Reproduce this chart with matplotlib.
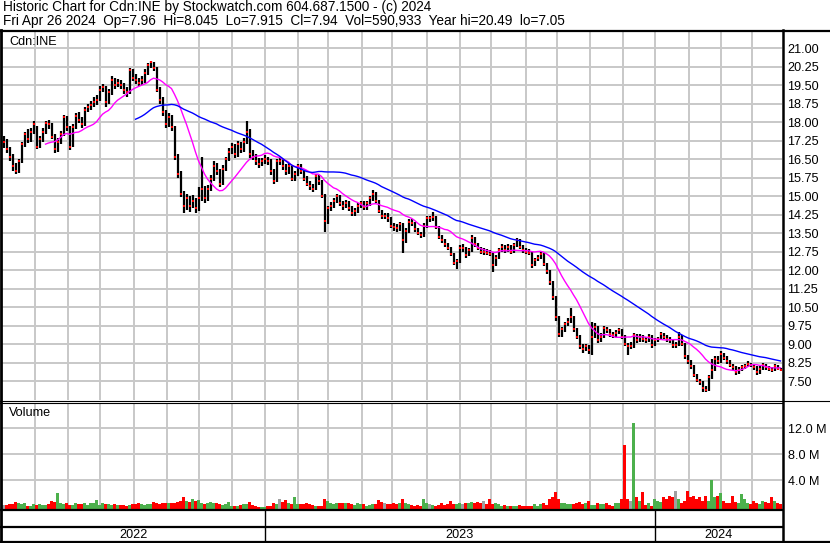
import matplotlib
matplotlib.use('Agg')
import matplotlib.pyplot as plt
import numpy as np
import pandas as pd

plt.rcParams['font.family'] = ['Liberation Sans', 'DejaVu Sans']

W, H = 830, 543

# one bar for every two trading days, May 2022 - Apr 26 2024
close = [
    17.2, 16.9, 16.6, 16.2, 16.0, 16.4, 17.1, 17.5, 17.3, 17.6,
    17.9, 17.0, 17.3, 17.6, 17.95, 17.9, 17.4, 16.9, 17.2, 17.5,
    18.2, 17.8, 17.0, 17.8, 18.25, 18.1, 17.9, 18.5, 18.6, 18.7,
    18.8, 18.9, 19.3, 19.4, 18.8, 19.2, 19.7, 19.5, 19.6, 19.5,
    19.3, 19.2, 20.1, 19.8, 19.7, 19.6, 19.7, 20.0, 20.3, 20.45,
    20.2, 19.3, 18.9, 18.4, 17.9, 18.2, 17.8, 16.6, 15.9, 15.1,
    14.6, 14.9, 14.6, 14.8, 14.5, 14.9, 15.3, 14.9, 15.3, 15.7,
    16.2, 16.0, 15.5, 16.1, 16.5, 16.8, 17.0, 16.7, 17.1, 16.9,
    17.2, 17.6, 16.7, 16.6, 16.4, 16.3, 16.4, 16.5, 16.4, 16.0,
    15.6, 16.4, 16.4, 16.2, 16.0, 16.2, 15.7, 15.9, 16.2, 16.0,
    15.7, 15.5, 15.4, 15.3, 15.8, 15.6, 15.0, 14.0, 14.5, 14.6,
    14.8, 15.0, 14.7, 14.6, 14.7, 14.5, 14.3, 14.4, 14.6, 14.7,
    14.55, 14.7, 14.9, 15.1, 14.8, 14.4, 14.2, 14.2, 14.1, 13.8,
    13.75, 13.7, 13.85, 13.2, 13.6, 13.95, 13.9, 13.65, 13.5, 13.4,
    13.8, 14.1, 14.1, 14.15, 13.75, 13.35, 13.2, 13.05, 12.9, 12.65,
    12.3, 12.35, 12.9, 12.9, 12.6, 12.8, 13.3, 13.05, 12.9, 12.75,
    12.75, 12.7, 12.65, 12.2, 12.5, 12.8, 12.95, 12.8, 12.95, 12.75,
    13.0, 13.2, 12.95, 12.8, 12.75, 12.7, 12.2, 12.4, 12.5, 12.65,
    12.25, 11.95, 11.5, 10.9, 10.1, 9.4, 9.6, 9.8, 9.9, 10.1,
    9.6, 9.3, 8.9, 8.8, 8.9, 8.75, 9.3, 9.7, 9.15, 9.3,
    9.65, 9.55, 9.4, 9.35, 9.45, 9.55, 9.3, 9.0, 8.9, 8.9,
    9.35, 9.15, 9.3, 9.2, 9.15, 9.3, 8.95, 9.15, 9.2, 9.4,
    9.3, 9.2, 9.15, 8.95, 8.95, 9.3, 9.0, 8.5, 8.3, 8.1,
    7.75, 7.55, 7.45, 7.2, 7.12, 7.65, 7.95, 8.4, 8.3, 8.6,
    8.45, 8.3, 8.15, 8.05, 7.85, 7.95, 8.05, 8.1, 8.2, 8.15,
    8.05, 7.85, 8.0, 8.15, 8.05, 8.0, 7.95, 8.1, 8.0, 7.94,
]
high = [
    17.45, 17.3, 17.0, 16.7, 16.35, 16.5, 17.2, 17.6, 17.7, 17.75,
    18.05, 17.85, 17.45, 17.75, 18.05, 18.1, 17.95, 17.5, 17.35, 17.65,
    18.3, 18.25, 17.85, 17.9, 18.35, 18.4, 18.2, 18.6, 18.75, 18.85,
    19.0, 19.1, 19.45, 19.55, 19.45, 19.35, 19.85, 19.8, 19.75, 19.7,
    19.6, 19.4, 20.2, 20.15, 19.95, 19.8, 19.85, 20.15, 20.4, 20.49,
    20.45, 20.25, 19.4, 19.0, 18.5, 18.35, 18.3, 17.85, 16.7, 16.0,
    15.2, 15.1, 15.0, 15.05, 14.9, 15.35, 16.6, 15.4, 15.45, 15.85,
    16.4, 16.35, 16.1, 16.25, 16.6, 16.95, 17.15, 17.1, 17.25, 17.2,
    17.35, 18.05, 17.7, 16.85, 16.7, 16.55, 16.55, 16.65, 16.6, 16.5,
    16.1, 16.5, 16.55, 16.5, 16.3, 16.35, 16.25, 16.0, 16.3, 16.3,
    16.05, 15.8, 15.6, 15.5, 15.9, 15.85, 15.65, 15.1, 14.6, 14.75,
    14.9, 15.1, 15.05, 14.8, 14.85, 14.8, 14.6, 14.5, 14.7, 14.8,
    14.8, 14.8, 15.0, 15.25, 15.15, 14.85, 14.45, 14.3, 14.3, 14.15,
    13.9, 13.85, 13.95, 13.9, 13.7, 14.05, 14.05, 13.95, 13.7, 13.55,
    13.9, 14.2, 14.2, 14.35, 14.2, 13.8, 13.4, 13.25, 13.1, 12.95,
    12.7, 12.45, 13.0, 13.05, 12.95, 12.9, 13.4, 13.35, 13.1, 12.95,
    12.9, 12.85, 12.8, 12.7, 12.6, 12.9, 13.05, 13.0, 13.05, 13.0,
    13.1, 13.3, 13.25, 13.0, 12.9, 12.85, 12.75, 12.5, 12.6, 12.75,
    12.7, 12.3, 12.0, 11.55, 10.95, 10.15, 9.7, 9.9, 10.05, 10.45,
    10.15, 9.65, 9.35, 9.0, 9.0, 8.95, 9.9, 9.85, 9.75, 9.45,
    9.75, 9.7, 9.6, 9.5, 9.55, 9.65, 9.6, 9.35, 9.05, 9.1,
    9.45, 9.4, 9.4, 9.35, 9.3, 9.4, 9.35, 9.25, 9.3, 9.5,
    9.45, 9.35, 9.3, 9.2, 9.1, 9.5, 9.35, 9.05, 8.55, 8.35,
    8.15, 7.8, 7.6, 7.5, 7.3, 7.75, 8.4, 8.5, 8.5, 8.7,
    8.65, 8.5, 8.35, 8.2, 8.1, 8.05, 8.15, 8.2, 8.3, 8.25,
    8.2, 8.1, 8.1, 8.25, 8.2, 8.1, 8.05, 8.2, 8.15, 8.045,
]
low = [
    16.95, 16.75, 16.4, 16.0, 15.9, 15.95, 16.35, 17.0, 17.15, 17.2,
    17.5, 16.9, 16.95, 17.2, 17.5, 17.7, 17.3, 16.75, 16.8, 17.1,
    17.45, 17.65, 16.85, 17.0, 17.7, 17.95, 17.75, 17.85, 18.4, 18.5,
    18.6, 18.7, 18.85, 19.2, 18.6, 18.75, 19.1, 19.35, 19.4, 19.35,
    19.15, 19.0, 19.15, 19.65, 19.55, 19.45, 19.5, 19.6, 19.9, 20.2,
    20.05, 19.2, 18.75, 18.25, 17.75, 17.8, 17.65, 16.45, 15.75, 14.95,
    14.3, 14.45, 14.35, 14.5, 14.3, 14.4, 14.8, 14.7, 14.8, 15.2,
    15.6, 15.85, 15.35, 15.45, 16.0, 16.4, 16.7, 16.55, 16.6, 16.75,
    16.8, 17.1, 16.55, 16.45, 16.25, 16.15, 16.2, 16.3, 16.25, 15.85,
    15.5, 15.55, 16.25, 16.05, 15.85, 15.9, 15.6, 15.6, 15.8, 15.9,
    15.6, 15.4, 15.25, 15.15, 15.25, 15.45, 14.9, 13.55, 13.85, 14.4,
    14.5, 14.7, 14.6, 14.45, 14.5, 14.4, 14.2, 14.2, 14.3, 14.5,
    14.45, 14.45, 14.6, 14.8, 14.7, 14.3, 14.05, 14.05, 13.95, 13.7,
    13.6, 13.55, 13.6, 12.7, 13.1, 13.5, 13.8, 13.55, 13.4, 13.3,
    13.35, 13.7, 13.95, 14.0, 13.65, 13.25, 13.1, 12.95, 12.8, 12.55,
    12.2, 12.05, 12.3, 12.75, 12.5, 12.55, 12.75, 12.95, 12.8, 12.65,
    12.6, 12.6, 12.55, 11.9, 12.15, 12.45, 12.75, 12.7, 12.75, 12.65,
    12.7, 12.95, 12.85, 12.7, 12.65, 12.6, 12.1, 12.15, 12.35, 12.45,
    12.15, 11.85, 11.4, 10.8, 9.95, 9.3, 9.3, 9.5, 9.75, 9.85,
    9.5, 9.2, 8.8, 8.65, 8.7, 8.6, 8.55, 9.25, 9.05, 9.1,
    9.25, 9.45, 9.3, 9.25, 9.3, 9.4, 9.2, 8.9, 8.55, 8.8,
    8.85, 9.05, 9.1, 9.1, 9.05, 9.1, 8.85, 8.9, 9.1, 9.15,
    9.2, 9.1, 9.05, 8.85, 8.85, 8.9, 8.9, 8.4, 8.2, 8.0,
    7.65, 7.45, 7.35, 7.05, 7.05, 7.1, 7.6, 7.9, 8.2, 8.25,
    8.35, 8.2, 8.05, 7.95, 7.75, 7.8, 7.9, 8.0, 8.05, 8.05,
    7.95, 7.75, 7.8, 7.95, 7.95, 7.9, 7.85, 7.9, 7.95, 7.915,
]
# volume in millions of shares
volume = [
    0.6, 0.6, 0.8, 0.8, 1.1, 0.9, 0.8, 1.0, 0.5, 0.5,
    0.7, 0.6, 0.7, 0.6, 0.6, 0.7, 1.3, 1.1, 2.5, 0.9,
    0.8, 1.0, 0.6, 0.6, 0.9, 0.8, 0.7, 0.9, 0.6, 1.0,
    1.0, 1.4, 0.6, 1.0, 0.8, 0.8, 0.6, 0.7, 0.6, 0.6,
    0.6, 0.5, 0.6, 0.7, 0.8, 0.9, 0.7, 0.6, 0.8, 0.7,
    1.1, 0.9, 0.8, 0.9, 1.0, 1.0, 0.9, 0.9, 1.1, 1.2,
    1.9, 1.3, 1.1, 1.5, 1.3, 1.4, 1.0, 0.8, 0.9, 1.1,
    0.9, 1.0, 0.7, 0.6, 0.8, 1.1, 0.5, 0.5, 0.5, 0.6,
    0.7, 0.8, 1.1, 0.6, 0.5, 0.3, 0.3, 0.3, 0.4, 0.5,
    0.9, 0.8, 1.5, 1.1, 1.4, 1.0, 0.8, 1.8, 0.8, 0.7,
    0.8, 1.0, 0.8, 0.6, 0.5, 0.4, 0.5, 1.5, 1.3, 1.0,
    0.8, 0.9, 1.0, 0.9, 1.0, 1.0, 0.8, 0.6, 0.9, 0.7,
    0.8, 0.5, 0.6, 0.8, 0.7, 1.4, 1.1, 1.0, 0.8, 0.7,
    1.0, 0.8, 0.9, 1.6, 0.9, 0.7, 0.6, 0.5, 0.6, 0.5,
    1.6, 0.9, 0.7, 0.6, 0.5, 0.6, 1.0, 0.6, 0.8, 1.3,
    0.8, 0.7, 0.9, 0.8, 0.9, 0.9, 1.1, 1.0, 1.1, 1.0,
    1.3, 0.8, 1.5, 0.7, 0.9, 0.8, 0.5, 0.6, 0.5, 0.5,
    0.5, 0.5, 0.6, 0.5, 0.4, 0.5, 0.5, 0.8, 0.5, 0.8,
    1.0, 0.6, 1.5, 1.9, 2.6, 1.5, 1.0, 0.9, 0.8, 0.7,
    0.8, 1.0, 1.1, 0.8, 1.0, 1.3, 0.6, 0.6, 0.9, 0.8,
    0.8, 0.9, 0.6, 0.5, 0.9, 1.0, 1.6, 9.8, 1.6, 1.3,
    13.3, 1.9, 1.3, 2.6, 0.6, 1.0, 0.5, 1.5, 1.3, 1.1,
    1.8, 1.5, 2.0, 1.8, 2.8, 1.5, 1.0, 1.2, 2.8, 1.8,
    2.0, 1.5, 1.8, 1.3, 2.0, 1.3, 4.4, 1.8, 2.0, 2.5,
    1.3, 1.0, 1.0, 2.0, 1.1, 1.0, 2.3, 1.5, 1.0, 0.8,
    1.3, 1.0, 0.8, 1.3, 1.1, 1.0, 1.8, 1.2, 1.0, 0.8,
]

title1 = "Historic Chart for Cdn:INE by Stockwatch.com 604.687.1500 - (c) 2024"
title2 = ("Fri Apr 26 2024  Op=7.96  Hi=8.045  Lo=7.915  Cl=7.94  "
          "Vol=590,933  Year hi=20.49  lo=7.05")
price_ticks = [7.50, 8.25, 9.00, 9.75, 10.50, 11.25, 12.00, 12.75, 13.50, 14.25,
               15.00, 15.75, 16.50, 17.25, 18.00, 18.75, 19.50, 20.25, 21.00]
vol_ticks = [4.0, 8.0, 12.0]
vol_labels = ['4.0 M', '8.0 M', '12.0 M']
years = ['2022', '2023', '2024']

days = pd.bdate_range('2022-05-02', '2024-04-26')
x = np.arange(len(close))
c = pd.Series(close)
ma_short = c.rolling(15).mean()
ma_long = c.rolling(45).mean()

month_starts = pd.date_range('2022-06-01', '2024-04-01', freq='MS')
month_pos = [days.searchsorted(m) / 2 - 0.5 for m in month_starts]
year_pos = [days.searchsorted(pd.Timestamp('2023-01-01')) / 2 - 0.5,
            days.searchsorted(pd.Timestamp('2024-01-01')) / 2 - 0.5]

FS = 9.1
FS_TITLE = 9.8
GRID = '#c8c8c8'
fig = plt.figure(figsize=(W / 100, H / 100), dpi=100)


def box(x0, y0, x1, y1):
    return [x0 / W, 1 - y1 / H, (x1 - x0) / W, (y1 - y0) / H]


# price panel
ax = fig.add_axes(box(2, 32, 782, 400))
ax.set_xlim(-0.5, len(close) - 0.5)
ax.set_ylim(6.73, 21.65)
ax.set_xticks(month_pos)
ax.set_yticks(price_ticks)
ax.set_yticklabels(['%.2f' % t for t in price_ticks])
ax.tick_params(axis='x', length=0, labelbottom=False)
ax.tick_params(axis='y', length=0, left=False, labelleft=False,
               right=False, labelright=True, labelsize=FS, pad=4)
ax.grid(True, color=GRID, lw=1.4)
ax.set_axisbelow(True)
for s in ax.spines.values():
    s.set_visible(False)
ax.vlines(x, low, high, color='black', lw=1.6)
ax.plot(x + 0.3, close, 's', ms=1.6, mew=0, color='red')
ax.plot(x, ma_short, color='#ff00ff', lw=1.0)
ax.plot(x, ma_long, color='#0000ff', lw=1.0)

# volume panel
vmin = -0.46
vax = fig.add_axes(box(2, 403, 782, 509))
vax.set_xlim(-0.5, len(close) - 0.5)
vax.set_ylim(vmin, 15.85)
vax.set_xticks(month_pos)
vax.set_yticks(vol_ticks)
vax.set_yticklabels(vol_labels)
vax.tick_params(axis='x', length=0, labelbottom=False)
vax.tick_params(axis='y', length=0, left=False, labelleft=False,
                right=False, labelright=True, labelsize=FS, pad=4)
vax.grid(True, color=GRID, lw=1.4)
vax.set_axisbelow(True)
for s in vax.spines.values():
    s.set_visible(False)
colors = ['#a0a0a0']
for i in range(1, len(close)):
    if close[i] > close[i - 1]:
        colors.append('#4cb04c')
    elif close[i] < close[i - 1]:
        colors.append('#ff0000')
    else:
        colors.append('#a0a0a0')
vax.bar(x, volume, bottom=vmin, width=0.9, color=colors, lw=0)

# frame, separators, titles and year row (pixel coordinates)
ov = fig.add_axes([0, 0, 1, 1])
ov.set_xlim(0, W)
ov.set_ylim(H, 0)
ov.axis('off')
ov.patch.set_alpha(0)

k = 'black'
ov.plot([0, W], [30.5, 30.5], color=k, lw=1.6)
ov.plot([1, 1], [30, H], color=k, lw=2.0)
ov.plot([782.5, 782.5], [30, H], color=k, lw=1.8)
ov.plot([0, W], [400.8, 400.8], color=k, lw=0.8)
ov.plot([0, 782], [402.8, 402.8], color=k, lw=0.8)
ov.plot([0, 782], [510, 510], color=k, lw=1.6)
ov.plot([0, 782], [526.5, 526.5], color=k, lw=1.6)
ov.plot([0, W], [541.8, 541.8], color=k, lw=1.6)

bounds = [-0.5] + year_pos + [len(close) - 0.5]
to_px = lambda v: 2 + (v + 0.5) * 780 / len(close)
for yp in year_pos:
    ov.plot([to_px(yp), to_px(yp)], [510, 542], color=k, lw=1.0)
for i, yr in enumerate(years):
    xc = (to_px(bounds[i]) + to_px(bounds[i + 1])) / 2
    ov.text(xc, 534.5, yr, ha='center', va='center', fontsize=FS)

ov.text(3, 7.5, title1, ha='left', va='center', fontsize=FS_TITLE)
ov.text(3, 21, title2, ha='left', va='center', fontsize=FS_TITLE)
ov.text(9, 42, 'Cdn:INE', ha='left', va='center', fontsize=FS)
ov.text(9, 413, 'Volume', ha='left', va='center', fontsize=FS)

fig.savefig('out.png', dpi=100)
